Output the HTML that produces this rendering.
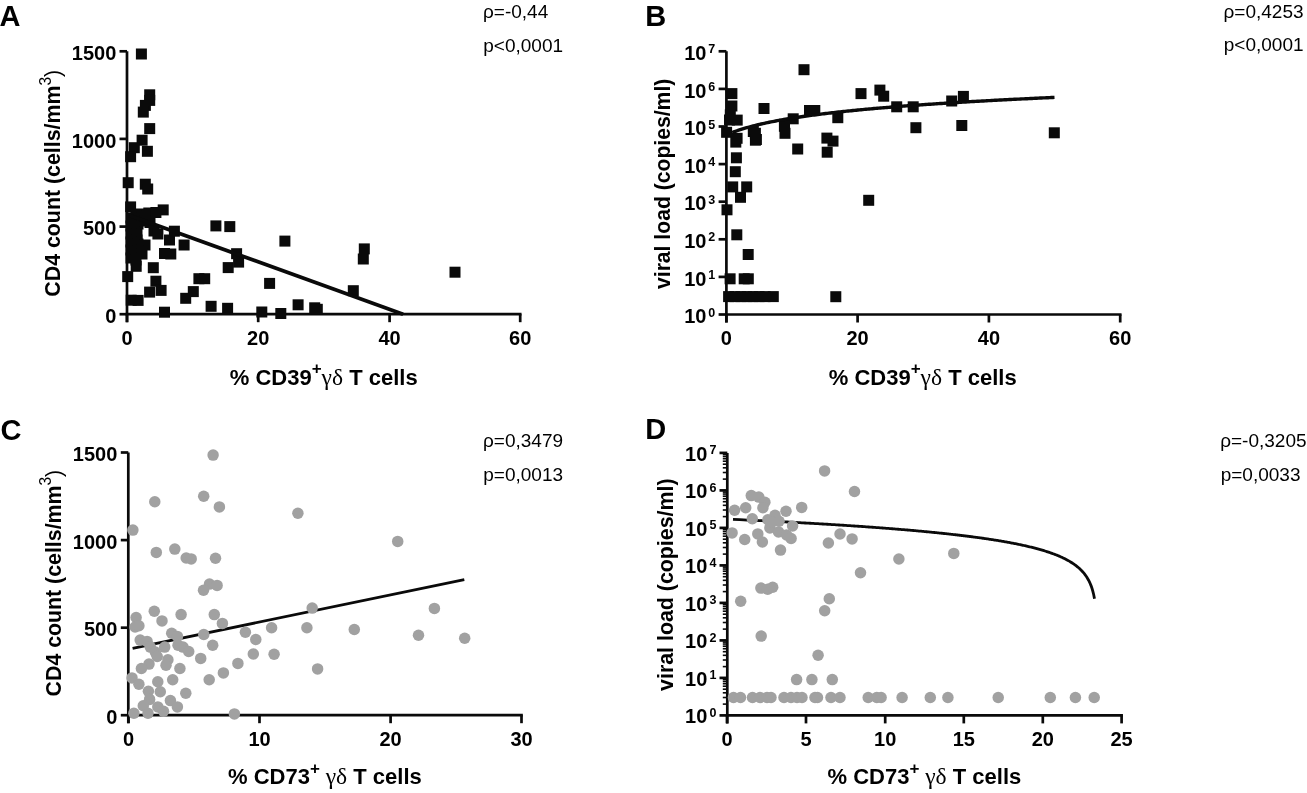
<!DOCTYPE html>
<html><head><meta charset="utf-8"><title>Figure</title>
<style>html,body{margin:0;padding:0;background:#fff;}svg{display:block;filter:grayscale(1);}</style></head>
<body><svg width="1307" height="793" viewBox="0 0 1307 793">
<rect width="1307" height="793" fill="#fff"/>
<line x1="127.00" y1="51.30" x2="127.00" y2="322.20" stroke="#0a0a0a" stroke-width="2.7" stroke-linecap="butt"/>
<line x1="125.65" y1="314.20" x2="521.55" y2="314.20" stroke="#0a0a0a" stroke-width="2.7" stroke-linecap="butt"/>
<line x1="119.50" y1="51.30" x2="127.00" y2="51.30" stroke="#0a0a0a" stroke-width="2.7" stroke-linecap="butt"/>
<line x1="119.50" y1="138.90" x2="127.00" y2="138.90" stroke="#0a0a0a" stroke-width="2.7" stroke-linecap="butt"/>
<line x1="119.50" y1="226.60" x2="127.00" y2="226.60" stroke="#0a0a0a" stroke-width="2.7" stroke-linecap="butt"/>
<line x1="119.50" y1="314.20" x2="127.00" y2="314.20" stroke="#0a0a0a" stroke-width="2.7" stroke-linecap="butt"/>
<line x1="127.00" y1="314.20" x2="127.00" y2="322.20" stroke="#0a0a0a" stroke-width="2.7" stroke-linecap="butt"/>
<line x1="258.20" y1="314.20" x2="258.20" y2="322.20" stroke="#0a0a0a" stroke-width="2.7" stroke-linecap="butt"/>
<line x1="389.60" y1="314.20" x2="389.60" y2="322.20" stroke="#0a0a0a" stroke-width="2.7" stroke-linecap="butt"/>
<line x1="520.20" y1="314.20" x2="520.20" y2="322.20" stroke="#0a0a0a" stroke-width="2.7" stroke-linecap="butt"/>
<text x="116.30" y="59.90" font-family="Liberation Sans" font-size="20" font-weight="bold" text-anchor="end" >1500</text>
<text x="116.30" y="147.50" font-family="Liberation Sans" font-size="20" font-weight="bold" text-anchor="end" >1000</text>
<text x="116.30" y="235.20" font-family="Liberation Sans" font-size="20" font-weight="bold" text-anchor="end" >500</text>
<text x="116.30" y="322.80" font-family="Liberation Sans" font-size="20" font-weight="bold" text-anchor="end" >0</text>
<text x="127.00" y="345.00" font-family="Liberation Sans" font-size="20" font-weight="bold" text-anchor="middle" >0</text>
<text x="258.20" y="345.00" font-family="Liberation Sans" font-size="20" font-weight="bold" text-anchor="middle" >20</text>
<text x="389.60" y="345.00" font-family="Liberation Sans" font-size="20" font-weight="bold" text-anchor="middle" >40</text>
<text x="520.20" y="345.00" font-family="Liberation Sans" font-size="20" font-weight="bold" text-anchor="middle" >60</text>
<rect x="135.90" y="48.50" width="11.0" height="11.0" fill="#0a0a0a"/>
<rect x="144.20" y="89.30" width="11.0" height="11.0" fill="#0a0a0a"/>
<rect x="144.20" y="94.90" width="11.0" height="11.0" fill="#0a0a0a"/>
<rect x="139.90" y="99.90" width="11.0" height="11.0" fill="#0a0a0a"/>
<rect x="137.80" y="106.60" width="11.0" height="11.0" fill="#0a0a0a"/>
<rect x="144.20" y="123.10" width="11.0" height="11.0" fill="#0a0a0a"/>
<rect x="136.60" y="134.70" width="11.0" height="11.0" fill="#0a0a0a"/>
<rect x="128.80" y="142.20" width="11.0" height="11.0" fill="#0a0a0a"/>
<rect x="141.90" y="145.80" width="11.0" height="11.0" fill="#0a0a0a"/>
<rect x="125.10" y="151.20" width="11.0" height="11.0" fill="#0a0a0a"/>
<rect x="122.70" y="177.20" width="11.0" height="11.0" fill="#0a0a0a"/>
<rect x="139.80" y="178.70" width="11.0" height="11.0" fill="#0a0a0a"/>
<rect x="142.20" y="183.50" width="11.0" height="11.0" fill="#0a0a0a"/>
<rect x="125.10" y="201.40" width="11.0" height="11.0" fill="#0a0a0a"/>
<rect x="157.70" y="204.40" width="11.0" height="11.0" fill="#0a0a0a"/>
<rect x="143.30" y="207.50" width="11.0" height="11.0" fill="#0a0a0a"/>
<rect x="150.40" y="207.00" width="11.0" height="11.0" fill="#0a0a0a"/>
<rect x="135.50" y="208.50" width="11.0" height="11.0" fill="#0a0a0a"/>
<rect x="130.50" y="210.50" width="11.0" height="11.0" fill="#0a0a0a"/>
<rect x="125.50" y="212.50" width="11.0" height="11.0" fill="#0a0a0a"/>
<rect x="125.50" y="220.50" width="11.0" height="11.0" fill="#0a0a0a"/>
<rect x="132.50" y="218.50" width="11.0" height="11.0" fill="#0a0a0a"/>
<rect x="139.50" y="215.50" width="11.0" height="11.0" fill="#0a0a0a"/>
<rect x="144.50" y="217.00" width="11.0" height="11.0" fill="#0a0a0a"/>
<rect x="125.50" y="228.50" width="11.0" height="11.0" fill="#0a0a0a"/>
<rect x="131.50" y="228.50" width="11.0" height="11.0" fill="#0a0a0a"/>
<rect x="131.50" y="234.50" width="11.0" height="11.0" fill="#0a0a0a"/>
<rect x="148.50" y="225.50" width="11.0" height="11.0" fill="#0a0a0a"/>
<rect x="152.40" y="228.50" width="11.0" height="11.0" fill="#0a0a0a"/>
<rect x="164.00" y="234.50" width="11.0" height="11.0" fill="#0a0a0a"/>
<rect x="125.50" y="236.50" width="11.0" height="11.0" fill="#0a0a0a"/>
<rect x="132.50" y="238.50" width="11.0" height="11.0" fill="#0a0a0a"/>
<rect x="139.50" y="239.50" width="11.0" height="11.0" fill="#0a0a0a"/>
<rect x="125.50" y="244.50" width="11.0" height="11.0" fill="#0a0a0a"/>
<rect x="132.50" y="245.50" width="11.0" height="11.0" fill="#0a0a0a"/>
<rect x="136.50" y="248.50" width="11.0" height="11.0" fill="#0a0a0a"/>
<rect x="125.50" y="252.50" width="11.0" height="11.0" fill="#0a0a0a"/>
<rect x="130.50" y="254.50" width="11.0" height="11.0" fill="#0a0a0a"/>
<rect x="130.70" y="260.80" width="11.0" height="11.0" fill="#0a0a0a"/>
<rect x="159.00" y="248.00" width="11.0" height="11.0" fill="#0a0a0a"/>
<rect x="165.30" y="248.50" width="11.0" height="11.0" fill="#0a0a0a"/>
<rect x="178.60" y="239.50" width="11.0" height="11.0" fill="#0a0a0a"/>
<rect x="168.90" y="225.70" width="11.0" height="11.0" fill="#0a0a0a"/>
<rect x="147.80" y="262.20" width="11.0" height="11.0" fill="#0a0a0a"/>
<rect x="122.20" y="271.10" width="11.0" height="11.0" fill="#0a0a0a"/>
<rect x="150.40" y="275.70" width="11.0" height="11.0" fill="#0a0a0a"/>
<rect x="155.60" y="284.90" width="11.0" height="11.0" fill="#0a0a0a"/>
<rect x="144.10" y="286.60" width="11.0" height="11.0" fill="#0a0a0a"/>
<rect x="125.70" y="294.70" width="11.0" height="11.0" fill="#0a0a0a"/>
<rect x="132.60" y="294.90" width="11.0" height="11.0" fill="#0a0a0a"/>
<rect x="159.00" y="306.70" width="11.0" height="11.0" fill="#0a0a0a"/>
<rect x="193.40" y="273.20" width="11.0" height="11.0" fill="#0a0a0a"/>
<rect x="199.20" y="273.20" width="11.0" height="11.0" fill="#0a0a0a"/>
<rect x="187.80" y="286.10" width="11.0" height="11.0" fill="#0a0a0a"/>
<rect x="180.20" y="292.80" width="11.0" height="11.0" fill="#0a0a0a"/>
<rect x="205.60" y="300.80" width="11.0" height="11.0" fill="#0a0a0a"/>
<rect x="222.10" y="302.80" width="11.0" height="11.0" fill="#0a0a0a"/>
<rect x="210.40" y="220.40" width="11.0" height="11.0" fill="#0a0a0a"/>
<rect x="224.30" y="221.10" width="11.0" height="11.0" fill="#0a0a0a"/>
<rect x="231.10" y="248.20" width="11.0" height="11.0" fill="#0a0a0a"/>
<rect x="233.10" y="256.60" width="11.0" height="11.0" fill="#0a0a0a"/>
<rect x="222.70" y="262.10" width="11.0" height="11.0" fill="#0a0a0a"/>
<rect x="279.40" y="235.60" width="11.0" height="11.0" fill="#0a0a0a"/>
<rect x="264.10" y="277.90" width="11.0" height="11.0" fill="#0a0a0a"/>
<rect x="256.30" y="306.50" width="11.0" height="11.0" fill="#0a0a0a"/>
<rect x="275.30" y="308.00" width="11.0" height="11.0" fill="#0a0a0a"/>
<rect x="292.60" y="299.30" width="11.0" height="11.0" fill="#0a0a0a"/>
<rect x="309.20" y="302.30" width="11.0" height="11.0" fill="#0a0a0a"/>
<rect x="311.80" y="303.80" width="11.0" height="11.0" fill="#0a0a0a"/>
<rect x="347.80" y="285.20" width="11.0" height="11.0" fill="#0a0a0a"/>
<rect x="358.80" y="243.40" width="11.0" height="11.0" fill="#0a0a0a"/>
<rect x="357.80" y="253.50" width="11.0" height="11.0" fill="#0a0a0a"/>
<rect x="449.50" y="266.70" width="11.0" height="11.0" fill="#0a0a0a"/>
<line x1="129.00" y1="215.20" x2="403.10" y2="314.20" stroke="#0a0a0a" stroke-width="3.8" stroke-linecap="butt"/>
<text x="-0.50" y="26.40" font-family="Liberation Sans" font-size="29" font-weight="bold" text-anchor="start" >A</text>
<text x="483.00" y="18.10" font-family="Liberation Sans" font-size="19" font-weight="normal" text-anchor="start" >ρ=-0,44</text>
<text x="483.30" y="52.00" font-family="Liberation Sans" font-size="19" font-weight="normal" text-anchor="start" >p&lt;0,0001</text>
<text transform="translate(60.20,296.70) rotate(-90)" font-family="Liberation Sans" font-size="22" font-weight="bold" textLength="226.9" lengthAdjust="spacingAndGlyphs">CD4 count (cells/mm<tspan font-size="16" font-weight="normal" dy="-9.5">3</tspan><tspan font-weight="normal" dy="9.5">)</tspan></text>
<text x="323.70" y="384.80" font-family="Liberation Sans" font-size="22" font-weight="bold" text-anchor="middle">% CD39<tspan font-size="17" dy="-10.5">+</tspan><tspan font-family="Liberation Serif" font-weight="normal" font-size="23.5" dy="10.5">γδ</tspan> T cells</text>
<line x1="726.40" y1="51.30" x2="726.40" y2="322.50" stroke="#0a0a0a" stroke-width="2.7" stroke-linecap="butt"/>
<line x1="725.05" y1="314.50" x2="1121.55" y2="314.50" stroke="#0a0a0a" stroke-width="2.7" stroke-linecap="butt"/>
<line x1="718.60" y1="314.50" x2="726.40" y2="314.50" stroke="#0a0a0a" stroke-width="2.7" stroke-linecap="butt"/>
<text x="706.50" y="323.20" font-family="Liberation Sans" font-size="20" font-weight="bold" text-anchor="end" >10</text>
<text x="708.30" y="316.50" font-family="Liberation Sans" font-size="12.5" font-weight="bold" text-anchor="start" >0</text>
<line x1="718.60" y1="276.90" x2="726.40" y2="276.90" stroke="#0a0a0a" stroke-width="2.7" stroke-linecap="butt"/>
<text x="706.50" y="285.60" font-family="Liberation Sans" font-size="20" font-weight="bold" text-anchor="end" >10</text>
<text x="708.30" y="278.90" font-family="Liberation Sans" font-size="12.5" font-weight="bold" text-anchor="start" >1</text>
<line x1="718.60" y1="239.30" x2="726.40" y2="239.30" stroke="#0a0a0a" stroke-width="2.7" stroke-linecap="butt"/>
<text x="706.50" y="248.00" font-family="Liberation Sans" font-size="20" font-weight="bold" text-anchor="end" >10</text>
<text x="708.30" y="241.30" font-family="Liberation Sans" font-size="12.5" font-weight="bold" text-anchor="start" >2</text>
<line x1="718.60" y1="201.70" x2="726.40" y2="201.70" stroke="#0a0a0a" stroke-width="2.7" stroke-linecap="butt"/>
<text x="706.50" y="210.40" font-family="Liberation Sans" font-size="20" font-weight="bold" text-anchor="end" >10</text>
<text x="708.30" y="203.70" font-family="Liberation Sans" font-size="12.5" font-weight="bold" text-anchor="start" >3</text>
<line x1="718.60" y1="164.10" x2="726.40" y2="164.10" stroke="#0a0a0a" stroke-width="2.7" stroke-linecap="butt"/>
<text x="706.50" y="172.80" font-family="Liberation Sans" font-size="20" font-weight="bold" text-anchor="end" >10</text>
<text x="708.30" y="166.10" font-family="Liberation Sans" font-size="12.5" font-weight="bold" text-anchor="start" >4</text>
<line x1="718.60" y1="126.50" x2="726.40" y2="126.50" stroke="#0a0a0a" stroke-width="2.7" stroke-linecap="butt"/>
<text x="706.50" y="135.20" font-family="Liberation Sans" font-size="20" font-weight="bold" text-anchor="end" >10</text>
<text x="708.30" y="128.50" font-family="Liberation Sans" font-size="12.5" font-weight="bold" text-anchor="start" >5</text>
<line x1="718.60" y1="88.90" x2="726.40" y2="88.90" stroke="#0a0a0a" stroke-width="2.7" stroke-linecap="butt"/>
<text x="706.50" y="97.60" font-family="Liberation Sans" font-size="20" font-weight="bold" text-anchor="end" >10</text>
<text x="708.30" y="90.90" font-family="Liberation Sans" font-size="12.5" font-weight="bold" text-anchor="start" >6</text>
<line x1="718.60" y1="51.30" x2="726.40" y2="51.30" stroke="#0a0a0a" stroke-width="2.7" stroke-linecap="butt"/>
<text x="706.50" y="60.00" font-family="Liberation Sans" font-size="20" font-weight="bold" text-anchor="end" >10</text>
<text x="708.30" y="53.30" font-family="Liberation Sans" font-size="12.5" font-weight="bold" text-anchor="start" >7</text>
<line x1="726.40" y1="314.50" x2="726.40" y2="322.50" stroke="#0a0a0a" stroke-width="2.7" stroke-linecap="butt"/>
<text x="726.40" y="345.30" font-family="Liberation Sans" font-size="20" font-weight="bold" text-anchor="middle" >0</text>
<line x1="857.60" y1="314.50" x2="857.60" y2="322.50" stroke="#0a0a0a" stroke-width="2.7" stroke-linecap="butt"/>
<text x="857.60" y="345.30" font-family="Liberation Sans" font-size="20" font-weight="bold" text-anchor="middle" >20</text>
<line x1="988.90" y1="314.50" x2="988.90" y2="322.50" stroke="#0a0a0a" stroke-width="2.7" stroke-linecap="butt"/>
<text x="988.90" y="345.30" font-family="Liberation Sans" font-size="20" font-weight="bold" text-anchor="middle" >40</text>
<line x1="1120.20" y1="314.50" x2="1120.20" y2="322.50" stroke="#0a0a0a" stroke-width="2.7" stroke-linecap="butt"/>
<text x="1120.20" y="345.30" font-family="Liberation Sans" font-size="20" font-weight="bold" text-anchor="middle" >60</text>
<rect x="798.50" y="64.20" width="11.0" height="11.0" fill="#0a0a0a"/>
<rect x="726.40" y="88.10" width="11.0" height="11.0" fill="#0a0a0a"/>
<rect x="726.40" y="100.50" width="11.0" height="11.0" fill="#0a0a0a"/>
<rect x="724.80" y="109.30" width="11.0" height="11.0" fill="#0a0a0a"/>
<rect x="731.70" y="114.60" width="11.0" height="11.0" fill="#0a0a0a"/>
<rect x="724.00" y="114.50" width="11.0" height="11.0" fill="#0a0a0a"/>
<rect x="758.50" y="103.00" width="11.0" height="11.0" fill="#0a0a0a"/>
<rect x="721.10" y="126.80" width="11.0" height="11.0" fill="#0a0a0a"/>
<rect x="731.60" y="132.80" width="11.0" height="11.0" fill="#0a0a0a"/>
<rect x="730.30" y="136.60" width="11.0" height="11.0" fill="#0a0a0a"/>
<rect x="747.80" y="126.00" width="11.0" height="11.0" fill="#0a0a0a"/>
<rect x="749.90" y="127.80" width="11.0" height="11.0" fill="#0a0a0a"/>
<rect x="749.90" y="134.70" width="11.0" height="11.0" fill="#0a0a0a"/>
<rect x="750.90" y="134.00" width="11.0" height="11.0" fill="#0a0a0a"/>
<rect x="778.90" y="120.80" width="11.0" height="11.0" fill="#0a0a0a"/>
<rect x="779.50" y="127.80" width="11.0" height="11.0" fill="#0a0a0a"/>
<rect x="787.70" y="113.30" width="11.0" height="11.0" fill="#0a0a0a"/>
<rect x="779.00" y="118.70" width="11.0" height="11.0" fill="#0a0a0a"/>
<rect x="804.00" y="105.00" width="11.0" height="11.0" fill="#0a0a0a"/>
<rect x="809.30" y="105.00" width="11.0" height="11.0" fill="#0a0a0a"/>
<rect x="832.30" y="112.20" width="11.0" height="11.0" fill="#0a0a0a"/>
<rect x="792.20" y="143.50" width="11.0" height="11.0" fill="#0a0a0a"/>
<rect x="821.40" y="132.60" width="11.0" height="11.0" fill="#0a0a0a"/>
<rect x="827.50" y="135.60" width="11.0" height="11.0" fill="#0a0a0a"/>
<rect x="821.70" y="146.70" width="11.0" height="11.0" fill="#0a0a0a"/>
<rect x="855.50" y="88.10" width="11.0" height="11.0" fill="#0a0a0a"/>
<rect x="874.40" y="84.60" width="11.0" height="11.0" fill="#0a0a0a"/>
<rect x="878.20" y="90.70" width="11.0" height="11.0" fill="#0a0a0a"/>
<rect x="891.20" y="101.30" width="11.0" height="11.0" fill="#0a0a0a"/>
<rect x="907.70" y="101.30" width="11.0" height="11.0" fill="#0a0a0a"/>
<rect x="910.40" y="122.20" width="11.0" height="11.0" fill="#0a0a0a"/>
<rect x="946.20" y="95.50" width="11.0" height="11.0" fill="#0a0a0a"/>
<rect x="957.90" y="90.90" width="11.0" height="11.0" fill="#0a0a0a"/>
<rect x="956.30" y="120.00" width="11.0" height="11.0" fill="#0a0a0a"/>
<rect x="1048.80" y="127.30" width="11.0" height="11.0" fill="#0a0a0a"/>
<rect x="730.90" y="152.30" width="11.0" height="11.0" fill="#0a0a0a"/>
<rect x="729.80" y="166.20" width="11.0" height="11.0" fill="#0a0a0a"/>
<rect x="727.20" y="181.40" width="11.0" height="11.0" fill="#0a0a0a"/>
<rect x="741.20" y="181.40" width="11.0" height="11.0" fill="#0a0a0a"/>
<rect x="735.00" y="191.80" width="11.0" height="11.0" fill="#0a0a0a"/>
<rect x="721.50" y="204.30" width="11.0" height="11.0" fill="#0a0a0a"/>
<rect x="731.30" y="229.30" width="11.0" height="11.0" fill="#0a0a0a"/>
<rect x="742.70" y="249.00" width="11.0" height="11.0" fill="#0a0a0a"/>
<rect x="724.60" y="273.30" width="11.0" height="11.0" fill="#0a0a0a"/>
<rect x="738.70" y="273.30" width="11.0" height="11.0" fill="#0a0a0a"/>
<rect x="742.80" y="273.30" width="11.0" height="11.0" fill="#0a0a0a"/>
<rect x="723.10" y="291.10" width="11.0" height="11.0" fill="#0a0a0a"/>
<rect x="729.50" y="291.10" width="11.0" height="11.0" fill="#0a0a0a"/>
<rect x="735.50" y="291.10" width="11.0" height="11.0" fill="#0a0a0a"/>
<rect x="741.50" y="291.10" width="11.0" height="11.0" fill="#0a0a0a"/>
<rect x="747.50" y="291.10" width="11.0" height="11.0" fill="#0a0a0a"/>
<rect x="753.50" y="291.10" width="11.0" height="11.0" fill="#0a0a0a"/>
<rect x="759.50" y="291.10" width="11.0" height="11.0" fill="#0a0a0a"/>
<rect x="767.80" y="291.10" width="11.0" height="11.0" fill="#0a0a0a"/>
<rect x="830.30" y="291.20" width="11.0" height="11.0" fill="#0a0a0a"/>
<rect x="863.20" y="194.80" width="11.0" height="11.0" fill="#0a0a0a"/>
<polyline fill="none" stroke="#0a0a0a" stroke-width="3.4" points="732.17,132.51 733.79,131.90 735.40,131.32 737.01,130.75 738.62,130.21 740.23,129.68 741.84,129.16 743.46,128.67 745.07,128.19 746.68,127.72 748.29,127.26 749.90,126.82 751.51,126.39 753.13,125.97 754.74,125.56 756.35,125.16 757.96,124.77 759.57,124.39 761.18,124.02 762.80,123.65 764.41,123.30 766.02,122.95 767.63,122.61 769.24,122.27 770.85,121.94 772.47,121.62 774.08,121.31 775.69,121.00 777.30,120.70 778.91,120.40 780.52,120.11 782.14,119.82 783.75,119.54 785.36,119.26 786.97,118.99 788.58,118.72 790.19,118.46 791.80,118.20 793.42,117.94 795.03,117.69 796.64,117.44 798.25,117.20 799.86,116.96 801.47,116.72 803.09,116.48 804.70,116.25 806.31,116.03 807.92,115.80 809.53,115.58 811.14,115.36 812.76,115.15 814.37,114.94 815.98,114.73 817.59,114.52 819.20,114.31 820.81,114.11 822.43,113.91 824.04,113.72 825.65,113.52 827.26,113.33 828.87,113.14 830.48,112.95 832.10,112.77 833.71,112.58 835.32,112.40 836.93,112.22 838.54,112.04 840.15,111.87 841.77,111.69 843.38,111.52 844.99,111.35 846.60,111.18 848.21,111.01 849.82,110.85 851.43,110.69 853.05,110.52 854.66,110.36 856.27,110.21 857.88,110.05 859.49,109.89 861.10,109.74 862.72,109.59 864.33,109.43 865.94,109.28 867.55,109.14 869.16,108.99 870.77,108.84 872.39,108.70 874.00,108.55 875.61,108.41 877.22,108.27 878.83,108.13 880.44,107.99 882.06,107.86 883.67,107.72 885.28,107.58 886.89,107.45 888.50,107.32 890.11,107.19 891.73,107.05 893.34,106.92 894.95,106.80 896.56,106.67 898.17,106.54 899.78,106.42 901.40,106.29 903.01,106.17 904.62,106.04 906.23,105.92 907.84,105.80 909.45,105.68 911.07,105.56 912.68,105.44 914.29,105.33 915.90,105.21 917.51,105.09 919.12,104.98 920.73,104.86 922.35,104.75 923.96,104.64 925.57,104.53 927.18,104.41 928.79,104.30 930.40,104.19 932.02,104.09 933.63,103.98 935.24,103.87 936.85,103.76 938.46,103.66 940.07,103.55 941.69,103.45 943.30,103.34 944.91,103.24 946.52,103.14 948.13,103.03 949.74,102.93 951.36,102.83 952.97,102.73 954.58,102.63 956.19,102.53 957.80,102.43 959.41,102.34 961.03,102.24 962.64,102.14 964.25,102.05 965.86,101.95 967.47,101.86 969.08,101.76 970.70,101.67 972.31,101.57 973.92,101.48 975.53,101.39 977.14,101.30 978.75,101.21 980.37,101.11 981.98,101.02 983.59,100.93 985.20,100.85 986.81,100.76 988.42,100.67 990.03,100.58 991.65,100.49 993.26,100.41 994.87,100.32 996.48,100.23 998.09,100.15 999.70,100.06 1001.32,99.98 1002.93,99.89 1004.54,99.81 1006.15,99.73 1007.76,99.64 1009.37,99.56 1010.99,99.48 1012.60,99.40 1014.21,99.32 1015.82,99.24 1017.43,99.16 1019.04,99.08 1020.66,99.00 1022.27,98.92 1023.88,98.84 1025.49,98.76 1027.10,98.68 1028.71,98.60 1030.33,98.53 1031.94,98.45 1033.55,98.37 1035.16,98.30 1036.77,98.22 1038.38,98.14 1040.00,98.07 1041.61,97.99 1043.22,97.92 1044.83,97.84 1046.44,97.77 1048.05,97.70 1049.67,97.62 1051.28,97.55 1052.89,97.48 1054.50,97.41"/>
<text x="645.30" y="26.20" font-family="Liberation Sans" font-size="29" font-weight="bold" text-anchor="start" >B</text>
<text x="1223.50" y="18.00" font-family="Liberation Sans" font-size="19" font-weight="normal" text-anchor="start" >ρ=0,4253</text>
<text x="1223.80" y="51.00" font-family="Liberation Sans" font-size="19" font-weight="normal" text-anchor="start" >p&lt;0,0001</text>
<text transform="translate(669.70,289.00) rotate(-90)" font-family="Liberation Sans" font-size="22" font-weight="bold" textLength="210.3" lengthAdjust="spacingAndGlyphs">viral load (copies/ml)</text>
<text x="922.70" y="384.80" font-family="Liberation Sans" font-size="22" font-weight="bold" text-anchor="middle">% CD39<tspan font-size="17" dy="-10.5">+</tspan><tspan font-family="Liberation Serif" font-weight="normal" font-size="23.5" dy="10.5">γδ</tspan> T cells</text>
<line x1="128.30" y1="452.50" x2="128.30" y2="723.20" stroke="#0a0a0a" stroke-width="2.7" stroke-linecap="butt"/>
<line x1="126.95" y1="715.20" x2="522.85" y2="715.20" stroke="#0a0a0a" stroke-width="2.7" stroke-linecap="butt"/>
<line x1="120.80" y1="452.50" x2="128.30" y2="452.50" stroke="#0a0a0a" stroke-width="2.7" stroke-linecap="butt"/>
<line x1="120.80" y1="540.10" x2="128.30" y2="540.10" stroke="#0a0a0a" stroke-width="2.7" stroke-linecap="butt"/>
<line x1="120.80" y1="627.70" x2="128.30" y2="627.70" stroke="#0a0a0a" stroke-width="2.7" stroke-linecap="butt"/>
<line x1="120.80" y1="715.20" x2="128.30" y2="715.20" stroke="#0a0a0a" stroke-width="2.7" stroke-linecap="butt"/>
<line x1="128.50" y1="715.20" x2="128.50" y2="723.20" stroke="#0a0a0a" stroke-width="2.7" stroke-linecap="butt"/>
<line x1="259.50" y1="715.20" x2="259.50" y2="723.20" stroke="#0a0a0a" stroke-width="2.7" stroke-linecap="butt"/>
<line x1="390.60" y1="715.20" x2="390.60" y2="723.20" stroke="#0a0a0a" stroke-width="2.7" stroke-linecap="butt"/>
<line x1="521.50" y1="715.20" x2="521.50" y2="723.20" stroke="#0a0a0a" stroke-width="2.7" stroke-linecap="butt"/>
<text x="117.30" y="461.10" font-family="Liberation Sans" font-size="20" font-weight="bold" text-anchor="end" >1500</text>
<text x="117.30" y="548.70" font-family="Liberation Sans" font-size="20" font-weight="bold" text-anchor="end" >1000</text>
<text x="117.30" y="636.30" font-family="Liberation Sans" font-size="20" font-weight="bold" text-anchor="end" >500</text>
<text x="117.30" y="723.80" font-family="Liberation Sans" font-size="20" font-weight="bold" text-anchor="end" >0</text>
<text x="128.50" y="746.00" font-family="Liberation Sans" font-size="20" font-weight="bold" text-anchor="middle" >0</text>
<text x="259.50" y="746.00" font-family="Liberation Sans" font-size="20" font-weight="bold" text-anchor="middle" >10</text>
<text x="390.60" y="746.00" font-family="Liberation Sans" font-size="20" font-weight="bold" text-anchor="middle" >20</text>
<text x="521.50" y="746.00" font-family="Liberation Sans" font-size="20" font-weight="bold" text-anchor="middle" >30</text>
<line x1="132.60" y1="648.30" x2="464.30" y2="579.70" stroke="#0a0a0a" stroke-width="2.8" stroke-linecap="butt"/>
<circle cx="213.10" cy="455.10" r="5.75" fill="#a1a1a4"/>
<circle cx="154.80" cy="501.80" r="5.75" fill="#a1a1a4"/>
<circle cx="203.70" cy="496.30" r="5.75" fill="#a1a1a4"/>
<circle cx="219.40" cy="506.90" r="5.75" fill="#a1a1a4"/>
<circle cx="132.90" cy="530.10" r="5.75" fill="#a1a1a4"/>
<circle cx="156.30" cy="552.40" r="5.75" fill="#a1a1a4"/>
<circle cx="174.80" cy="549.10" r="5.75" fill="#a1a1a4"/>
<circle cx="186.20" cy="558.00" r="5.75" fill="#a1a1a4"/>
<circle cx="191.20" cy="558.90" r="5.75" fill="#a1a1a4"/>
<circle cx="215.50" cy="558.30" r="5.75" fill="#a1a1a4"/>
<circle cx="209.50" cy="584.10" r="5.75" fill="#a1a1a4"/>
<circle cx="217.10" cy="585.40" r="5.75" fill="#a1a1a4"/>
<circle cx="203.50" cy="590.20" r="5.75" fill="#a1a1a4"/>
<circle cx="136.10" cy="617.50" r="5.75" fill="#a1a1a4"/>
<circle cx="154.30" cy="611.20" r="5.75" fill="#a1a1a4"/>
<circle cx="162.00" cy="620.90" r="5.75" fill="#a1a1a4"/>
<circle cx="181.10" cy="614.60" r="5.75" fill="#a1a1a4"/>
<circle cx="214.30" cy="614.60" r="5.75" fill="#a1a1a4"/>
<circle cx="222.40" cy="623.40" r="5.75" fill="#a1a1a4"/>
<circle cx="135.10" cy="627.00" r="5.75" fill="#a1a1a4"/>
<circle cx="138.90" cy="625.70" r="5.75" fill="#a1a1a4"/>
<circle cx="171.70" cy="633.30" r="5.75" fill="#a1a1a4"/>
<circle cx="177.40" cy="636.40" r="5.75" fill="#a1a1a4"/>
<circle cx="203.80" cy="634.50" r="5.75" fill="#a1a1a4"/>
<circle cx="140.20" cy="640.10" r="5.75" fill="#a1a1a4"/>
<circle cx="147.10" cy="641.40" r="5.75" fill="#a1a1a4"/>
<circle cx="150.30" cy="647.10" r="5.75" fill="#a1a1a4"/>
<circle cx="164.70" cy="647.10" r="5.75" fill="#a1a1a4"/>
<circle cx="178.00" cy="645.20" r="5.75" fill="#a1a1a4"/>
<circle cx="183.00" cy="647.10" r="5.75" fill="#a1a1a4"/>
<circle cx="188.70" cy="651.50" r="5.75" fill="#a1a1a4"/>
<circle cx="212.70" cy="645.20" r="5.75" fill="#a1a1a4"/>
<circle cx="155.30" cy="652.10" r="5.75" fill="#a1a1a4"/>
<circle cx="157.20" cy="656.50" r="5.75" fill="#a1a1a4"/>
<circle cx="167.90" cy="659.70" r="5.75" fill="#a1a1a4"/>
<circle cx="166.00" cy="665.30" r="5.75" fill="#a1a1a4"/>
<circle cx="149.00" cy="664.10" r="5.75" fill="#a1a1a4"/>
<circle cx="141.40" cy="668.50" r="5.75" fill="#a1a1a4"/>
<circle cx="179.90" cy="668.50" r="5.75" fill="#a1a1a4"/>
<circle cx="200.70" cy="658.40" r="5.75" fill="#a1a1a4"/>
<circle cx="237.90" cy="663.40" r="5.75" fill="#a1a1a4"/>
<circle cx="132.00" cy="677.90" r="5.75" fill="#a1a1a4"/>
<circle cx="138.90" cy="684.20" r="5.75" fill="#a1a1a4"/>
<circle cx="157.80" cy="681.70" r="5.75" fill="#a1a1a4"/>
<circle cx="172.70" cy="679.80" r="5.75" fill="#a1a1a4"/>
<circle cx="209.20" cy="679.80" r="5.75" fill="#a1a1a4"/>
<circle cx="223.40" cy="672.90" r="5.75" fill="#a1a1a4"/>
<circle cx="148.40" cy="691.20" r="5.75" fill="#a1a1a4"/>
<circle cx="160.30" cy="691.80" r="5.75" fill="#a1a1a4"/>
<circle cx="185.80" cy="693.30" r="5.75" fill="#a1a1a4"/>
<circle cx="149.60" cy="699.40" r="5.75" fill="#a1a1a4"/>
<circle cx="170.40" cy="700.60" r="5.75" fill="#a1a1a4"/>
<circle cx="143.30" cy="705.70" r="5.75" fill="#a1a1a4"/>
<circle cx="157.80" cy="706.90" r="5.75" fill="#a1a1a4"/>
<circle cx="177.40" cy="706.90" r="5.75" fill="#a1a1a4"/>
<circle cx="133.90" cy="713.20" r="5.75" fill="#a1a1a4"/>
<circle cx="148.00" cy="713.20" r="5.75" fill="#a1a1a4"/>
<circle cx="163.50" cy="711.30" r="5.75" fill="#a1a1a4"/>
<circle cx="234.40" cy="713.90" r="5.75" fill="#a1a1a4"/>
<circle cx="245.40" cy="632.20" r="5.75" fill="#a1a1a4"/>
<circle cx="255.80" cy="639.50" r="5.75" fill="#a1a1a4"/>
<circle cx="271.60" cy="627.80" r="5.75" fill="#a1a1a4"/>
<circle cx="306.90" cy="627.80" r="5.75" fill="#a1a1a4"/>
<circle cx="312.20" cy="608.10" r="5.75" fill="#a1a1a4"/>
<circle cx="354.30" cy="629.50" r="5.75" fill="#a1a1a4"/>
<circle cx="253.30" cy="654.00" r="5.75" fill="#a1a1a4"/>
<circle cx="274.10" cy="654.30" r="5.75" fill="#a1a1a4"/>
<circle cx="317.60" cy="668.90" r="5.75" fill="#a1a1a4"/>
<circle cx="397.70" cy="541.40" r="5.75" fill="#a1a1a4"/>
<circle cx="297.90" cy="513.20" r="5.75" fill="#a1a1a4"/>
<circle cx="434.40" cy="608.40" r="5.75" fill="#a1a1a4"/>
<circle cx="418.50" cy="635.20" r="5.75" fill="#a1a1a4"/>
<circle cx="464.70" cy="638.20" r="5.75" fill="#a1a1a4"/>
<text x="0.60" y="439.70" font-family="Liberation Sans" font-size="29" font-weight="bold" text-anchor="start" >C</text>
<text x="483.00" y="446.90" font-family="Liberation Sans" font-size="19" font-weight="normal" text-anchor="start" >ρ=0,3479</text>
<text x="483.30" y="481.20" font-family="Liberation Sans" font-size="19" font-weight="normal" text-anchor="start" >p=0,0013</text>
<text transform="translate(60.80,696.40) rotate(-90)" font-family="Liberation Sans" font-size="22" font-weight="bold" textLength="226.6" lengthAdjust="spacingAndGlyphs">CD4 count (cells/mm<tspan font-size="16" font-weight="normal" dy="-9.5">3</tspan><tspan font-weight="normal" dy="9.5">)</tspan></text>
<text x="324.90" y="784.00" font-family="Liberation Sans" font-size="22" font-weight="bold" text-anchor="middle">% CD73<tspan font-size="17" dy="-10.5">+</tspan><tspan font-family="Liberation Serif" font-weight="normal" font-size="23.5" dy="10.5"> γδ</tspan> T cells</text>
<line x1="727.30" y1="452.90" x2="727.30" y2="723.40" stroke="#0a0a0a" stroke-width="2.7" stroke-linecap="butt"/>
<line x1="725.95" y1="715.40" x2="1122.95" y2="715.40" stroke="#0a0a0a" stroke-width="2.7" stroke-linecap="butt"/>
<line x1="719.50" y1="715.40" x2="727.30" y2="715.40" stroke="#0a0a0a" stroke-width="2.7" stroke-linecap="butt"/>
<text x="707.30" y="723.40" font-family="Liberation Sans" font-size="20" font-weight="bold" text-anchor="end" >10</text>
<text x="709.60" y="716.70" font-family="Liberation Sans" font-size="12.5" font-weight="bold" text-anchor="start" >0</text>
<line x1="722.80" y1="704.11" x2="727.30" y2="704.11" stroke="#0a0a0a" stroke-width="1.6" stroke-linecap="butt"/>
<line x1="722.80" y1="697.51" x2="727.30" y2="697.51" stroke="#0a0a0a" stroke-width="1.6" stroke-linecap="butt"/>
<line x1="722.80" y1="692.82" x2="727.30" y2="692.82" stroke="#0a0a0a" stroke-width="1.6" stroke-linecap="butt"/>
<line x1="722.80" y1="689.19" x2="727.30" y2="689.19" stroke="#0a0a0a" stroke-width="1.6" stroke-linecap="butt"/>
<line x1="722.80" y1="686.22" x2="727.30" y2="686.22" stroke="#0a0a0a" stroke-width="1.6" stroke-linecap="butt"/>
<line x1="722.80" y1="683.71" x2="727.30" y2="683.71" stroke="#0a0a0a" stroke-width="1.6" stroke-linecap="butt"/>
<line x1="722.80" y1="681.53" x2="727.30" y2="681.53" stroke="#0a0a0a" stroke-width="1.6" stroke-linecap="butt"/>
<line x1="722.80" y1="679.62" x2="727.30" y2="679.62" stroke="#0a0a0a" stroke-width="1.6" stroke-linecap="butt"/>
<line x1="719.50" y1="677.90" x2="727.30" y2="677.90" stroke="#0a0a0a" stroke-width="2.7" stroke-linecap="butt"/>
<text x="707.30" y="685.90" font-family="Liberation Sans" font-size="20" font-weight="bold" text-anchor="end" >10</text>
<text x="709.60" y="679.20" font-family="Liberation Sans" font-size="12.5" font-weight="bold" text-anchor="start" >1</text>
<line x1="722.80" y1="666.61" x2="727.30" y2="666.61" stroke="#0a0a0a" stroke-width="1.6" stroke-linecap="butt"/>
<line x1="722.80" y1="660.01" x2="727.30" y2="660.01" stroke="#0a0a0a" stroke-width="1.6" stroke-linecap="butt"/>
<line x1="722.80" y1="655.32" x2="727.30" y2="655.32" stroke="#0a0a0a" stroke-width="1.6" stroke-linecap="butt"/>
<line x1="722.80" y1="651.69" x2="727.30" y2="651.69" stroke="#0a0a0a" stroke-width="1.6" stroke-linecap="butt"/>
<line x1="722.80" y1="648.72" x2="727.30" y2="648.72" stroke="#0a0a0a" stroke-width="1.6" stroke-linecap="butt"/>
<line x1="722.80" y1="646.21" x2="727.30" y2="646.21" stroke="#0a0a0a" stroke-width="1.6" stroke-linecap="butt"/>
<line x1="722.80" y1="644.03" x2="727.30" y2="644.03" stroke="#0a0a0a" stroke-width="1.6" stroke-linecap="butt"/>
<line x1="722.80" y1="642.12" x2="727.30" y2="642.12" stroke="#0a0a0a" stroke-width="1.6" stroke-linecap="butt"/>
<line x1="719.50" y1="640.40" x2="727.30" y2="640.40" stroke="#0a0a0a" stroke-width="2.7" stroke-linecap="butt"/>
<text x="707.30" y="648.40" font-family="Liberation Sans" font-size="20" font-weight="bold" text-anchor="end" >10</text>
<text x="709.60" y="641.70" font-family="Liberation Sans" font-size="12.5" font-weight="bold" text-anchor="start" >2</text>
<line x1="722.80" y1="629.11" x2="727.30" y2="629.11" stroke="#0a0a0a" stroke-width="1.6" stroke-linecap="butt"/>
<line x1="722.80" y1="622.51" x2="727.30" y2="622.51" stroke="#0a0a0a" stroke-width="1.6" stroke-linecap="butt"/>
<line x1="722.80" y1="617.82" x2="727.30" y2="617.82" stroke="#0a0a0a" stroke-width="1.6" stroke-linecap="butt"/>
<line x1="722.80" y1="614.19" x2="727.30" y2="614.19" stroke="#0a0a0a" stroke-width="1.6" stroke-linecap="butt"/>
<line x1="722.80" y1="611.22" x2="727.30" y2="611.22" stroke="#0a0a0a" stroke-width="1.6" stroke-linecap="butt"/>
<line x1="722.80" y1="608.71" x2="727.30" y2="608.71" stroke="#0a0a0a" stroke-width="1.6" stroke-linecap="butt"/>
<line x1="722.80" y1="606.53" x2="727.30" y2="606.53" stroke="#0a0a0a" stroke-width="1.6" stroke-linecap="butt"/>
<line x1="722.80" y1="604.62" x2="727.30" y2="604.62" stroke="#0a0a0a" stroke-width="1.6" stroke-linecap="butt"/>
<line x1="719.50" y1="602.90" x2="727.30" y2="602.90" stroke="#0a0a0a" stroke-width="2.7" stroke-linecap="butt"/>
<text x="707.30" y="610.90" font-family="Liberation Sans" font-size="20" font-weight="bold" text-anchor="end" >10</text>
<text x="709.60" y="604.20" font-family="Liberation Sans" font-size="12.5" font-weight="bold" text-anchor="start" >3</text>
<line x1="722.80" y1="591.61" x2="727.30" y2="591.61" stroke="#0a0a0a" stroke-width="1.6" stroke-linecap="butt"/>
<line x1="722.80" y1="585.01" x2="727.30" y2="585.01" stroke="#0a0a0a" stroke-width="1.6" stroke-linecap="butt"/>
<line x1="722.80" y1="580.32" x2="727.30" y2="580.32" stroke="#0a0a0a" stroke-width="1.6" stroke-linecap="butt"/>
<line x1="722.80" y1="576.69" x2="727.30" y2="576.69" stroke="#0a0a0a" stroke-width="1.6" stroke-linecap="butt"/>
<line x1="722.80" y1="573.72" x2="727.30" y2="573.72" stroke="#0a0a0a" stroke-width="1.6" stroke-linecap="butt"/>
<line x1="722.80" y1="571.21" x2="727.30" y2="571.21" stroke="#0a0a0a" stroke-width="1.6" stroke-linecap="butt"/>
<line x1="722.80" y1="569.03" x2="727.30" y2="569.03" stroke="#0a0a0a" stroke-width="1.6" stroke-linecap="butt"/>
<line x1="722.80" y1="567.12" x2="727.30" y2="567.12" stroke="#0a0a0a" stroke-width="1.6" stroke-linecap="butt"/>
<line x1="719.50" y1="565.40" x2="727.30" y2="565.40" stroke="#0a0a0a" stroke-width="2.7" stroke-linecap="butt"/>
<text x="707.30" y="573.40" font-family="Liberation Sans" font-size="20" font-weight="bold" text-anchor="end" >10</text>
<text x="709.60" y="566.70" font-family="Liberation Sans" font-size="12.5" font-weight="bold" text-anchor="start" >4</text>
<line x1="722.80" y1="554.11" x2="727.30" y2="554.11" stroke="#0a0a0a" stroke-width="1.6" stroke-linecap="butt"/>
<line x1="722.80" y1="547.51" x2="727.30" y2="547.51" stroke="#0a0a0a" stroke-width="1.6" stroke-linecap="butt"/>
<line x1="722.80" y1="542.82" x2="727.30" y2="542.82" stroke="#0a0a0a" stroke-width="1.6" stroke-linecap="butt"/>
<line x1="722.80" y1="539.19" x2="727.30" y2="539.19" stroke="#0a0a0a" stroke-width="1.6" stroke-linecap="butt"/>
<line x1="722.80" y1="536.22" x2="727.30" y2="536.22" stroke="#0a0a0a" stroke-width="1.6" stroke-linecap="butt"/>
<line x1="722.80" y1="533.71" x2="727.30" y2="533.71" stroke="#0a0a0a" stroke-width="1.6" stroke-linecap="butt"/>
<line x1="722.80" y1="531.53" x2="727.30" y2="531.53" stroke="#0a0a0a" stroke-width="1.6" stroke-linecap="butt"/>
<line x1="722.80" y1="529.62" x2="727.30" y2="529.62" stroke="#0a0a0a" stroke-width="1.6" stroke-linecap="butt"/>
<line x1="719.50" y1="527.90" x2="727.30" y2="527.90" stroke="#0a0a0a" stroke-width="2.7" stroke-linecap="butt"/>
<text x="707.30" y="535.90" font-family="Liberation Sans" font-size="20" font-weight="bold" text-anchor="end" >10</text>
<text x="709.60" y="529.20" font-family="Liberation Sans" font-size="12.5" font-weight="bold" text-anchor="start" >5</text>
<line x1="722.80" y1="516.61" x2="727.30" y2="516.61" stroke="#0a0a0a" stroke-width="1.6" stroke-linecap="butt"/>
<line x1="722.80" y1="510.01" x2="727.30" y2="510.01" stroke="#0a0a0a" stroke-width="1.6" stroke-linecap="butt"/>
<line x1="722.80" y1="505.32" x2="727.30" y2="505.32" stroke="#0a0a0a" stroke-width="1.6" stroke-linecap="butt"/>
<line x1="722.80" y1="501.69" x2="727.30" y2="501.69" stroke="#0a0a0a" stroke-width="1.6" stroke-linecap="butt"/>
<line x1="722.80" y1="498.72" x2="727.30" y2="498.72" stroke="#0a0a0a" stroke-width="1.6" stroke-linecap="butt"/>
<line x1="722.80" y1="496.21" x2="727.30" y2="496.21" stroke="#0a0a0a" stroke-width="1.6" stroke-linecap="butt"/>
<line x1="722.80" y1="494.03" x2="727.30" y2="494.03" stroke="#0a0a0a" stroke-width="1.6" stroke-linecap="butt"/>
<line x1="722.80" y1="492.12" x2="727.30" y2="492.12" stroke="#0a0a0a" stroke-width="1.6" stroke-linecap="butt"/>
<line x1="719.50" y1="490.40" x2="727.30" y2="490.40" stroke="#0a0a0a" stroke-width="2.7" stroke-linecap="butt"/>
<text x="707.30" y="498.40" font-family="Liberation Sans" font-size="20" font-weight="bold" text-anchor="end" >10</text>
<text x="709.60" y="491.70" font-family="Liberation Sans" font-size="12.5" font-weight="bold" text-anchor="start" >6</text>
<line x1="722.80" y1="479.11" x2="727.30" y2="479.11" stroke="#0a0a0a" stroke-width="1.6" stroke-linecap="butt"/>
<line x1="722.80" y1="472.51" x2="727.30" y2="472.51" stroke="#0a0a0a" stroke-width="1.6" stroke-linecap="butt"/>
<line x1="722.80" y1="467.82" x2="727.30" y2="467.82" stroke="#0a0a0a" stroke-width="1.6" stroke-linecap="butt"/>
<line x1="722.80" y1="464.19" x2="727.30" y2="464.19" stroke="#0a0a0a" stroke-width="1.6" stroke-linecap="butt"/>
<line x1="722.80" y1="461.22" x2="727.30" y2="461.22" stroke="#0a0a0a" stroke-width="1.6" stroke-linecap="butt"/>
<line x1="722.80" y1="458.71" x2="727.30" y2="458.71" stroke="#0a0a0a" stroke-width="1.6" stroke-linecap="butt"/>
<line x1="722.80" y1="456.53" x2="727.30" y2="456.53" stroke="#0a0a0a" stroke-width="1.6" stroke-linecap="butt"/>
<line x1="722.80" y1="454.62" x2="727.30" y2="454.62" stroke="#0a0a0a" stroke-width="1.6" stroke-linecap="butt"/>
<line x1="719.50" y1="452.90" x2="727.30" y2="452.90" stroke="#0a0a0a" stroke-width="2.7" stroke-linecap="butt"/>
<text x="707.30" y="460.90" font-family="Liberation Sans" font-size="20" font-weight="bold" text-anchor="end" >10</text>
<text x="709.60" y="454.20" font-family="Liberation Sans" font-size="12.5" font-weight="bold" text-anchor="start" >7</text>
<line x1="727.00" y1="715.40" x2="727.00" y2="723.40" stroke="#0a0a0a" stroke-width="2.7" stroke-linecap="butt"/>
<text x="727.00" y="746.00" font-family="Liberation Sans" font-size="20" font-weight="bold" text-anchor="middle" >0</text>
<line x1="806.00" y1="715.40" x2="806.00" y2="723.40" stroke="#0a0a0a" stroke-width="2.7" stroke-linecap="butt"/>
<text x="806.00" y="746.00" font-family="Liberation Sans" font-size="20" font-weight="bold" text-anchor="middle" >5</text>
<line x1="885.20" y1="715.40" x2="885.20" y2="723.40" stroke="#0a0a0a" stroke-width="2.7" stroke-linecap="butt"/>
<text x="885.20" y="746.00" font-family="Liberation Sans" font-size="20" font-weight="bold" text-anchor="middle" >10</text>
<line x1="963.80" y1="715.40" x2="963.80" y2="723.40" stroke="#0a0a0a" stroke-width="2.7" stroke-linecap="butt"/>
<text x="963.80" y="746.00" font-family="Liberation Sans" font-size="20" font-weight="bold" text-anchor="middle" >15</text>
<line x1="1042.80" y1="715.40" x2="1042.80" y2="723.40" stroke="#0a0a0a" stroke-width="2.7" stroke-linecap="butt"/>
<text x="1042.80" y="746.00" font-family="Liberation Sans" font-size="20" font-weight="bold" text-anchor="middle" >20</text>
<line x1="1121.60" y1="715.40" x2="1121.60" y2="723.40" stroke="#0a0a0a" stroke-width="2.7" stroke-linecap="butt"/>
<text x="1121.60" y="746.00" font-family="Liberation Sans" font-size="20" font-weight="bold" text-anchor="middle" >25</text>
<polyline fill="none" stroke="#0a0a0a" stroke-width="2.8" points="732.98,519.39 739.65,519.69 743.82,519.88 747.37,520.05 750.58,520.20 753.56,520.34 756.36,520.47 759.03,520.60 761.58,520.72 764.03,520.84 766.41,520.96 768.72,521.07 770.96,521.18 773.15,521.29 775.29,521.40 777.38,521.51 779.44,521.61 781.45,521.71 783.43,521.82 785.37,521.92 787.29,522.02 789.18,522.12 791.04,522.22 792.87,522.31 794.68,522.41 796.47,522.51 798.24,522.60 799.98,522.70 801.71,522.79 803.42,522.89 805.11,522.98 806.79,523.08 808.45,523.17 810.09,523.26 811.72,523.36 813.33,523.45 814.93,523.54 816.52,523.63 818.09,523.72 819.66,523.81 821.21,523.91 822.74,524.00 824.27,524.09 825.79,524.18 827.29,524.27 828.79,524.36 830.27,524.45 831.75,524.54 833.22,524.63 834.67,524.72 836.12,524.81 837.56,524.90 838.99,524.99 840.41,525.08 841.83,525.17 843.24,525.26 844.64,525.35 846.03,525.44 847.41,525.53 848.79,525.62 850.16,525.71 851.52,525.80 852.88,525.89 854.23,525.98 855.58,526.07 856.91,526.16 858.25,526.25 859.57,526.34 860.89,526.43 862.20,526.52 863.51,526.61 864.81,526.71 866.11,526.80 867.40,526.89 868.69,526.98 869.97,527.07 871.25,527.16 872.52,527.25 873.78,527.35 875.05,527.44 876.30,527.53 877.55,527.62 878.80,527.72 880.04,527.81 881.28,527.90 882.51,528.00 883.74,528.09 884.97,528.18 886.19,528.28 887.41,528.37 888.62,528.46 889.83,528.56 891.03,528.65 892.23,528.75 893.43,528.84 894.62,528.94 895.81,529.04 897.00,529.13 898.18,529.23 899.36,529.33 900.53,529.42 901.70,529.52 902.87,529.62 904.03,529.71 905.20,529.81 906.35,529.91 907.51,530.01 908.66,530.11 909.81,530.21 910.95,530.31 912.09,530.41 913.23,530.51 914.37,530.61 915.50,530.71 916.63,530.81 917.75,530.91 918.88,531.02 920.00,531.12 921.11,531.22 922.23,531.33 923.34,531.43 924.45,531.53 925.56,531.64 926.66,531.74 927.76,531.85 928.86,531.95 929.95,532.06 931.05,532.17 932.14,532.27 933.23,532.38 934.31,532.49 935.39,532.60 936.47,532.71 937.55,532.82 938.63,532.93 939.70,533.04 940.77,533.15 941.84,533.26 942.91,533.37 943.97,533.49 945.03,533.60 946.09,533.71 947.15,533.83 948.20,533.94 949.25,534.06 950.30,534.17 951.35,534.29 952.40,534.41 953.44,534.52 954.48,534.64 955.52,534.76 956.56,534.88 957.60,535.00 958.63,535.12 959.66,535.24 960.69,535.37 961.72,535.49 962.74,535.61 963.77,535.74 964.79,535.86 965.81,535.99 966.82,536.11 967.84,536.24 968.85,536.37 969.87,536.50 970.88,536.63 971.88,536.76 972.89,536.89 973.90,537.02 974.90,537.16 975.90,537.29 976.90,537.42 977.90,537.56 978.89,537.70 979.89,537.83 980.88,537.97 981.87,538.11 982.86,538.25 983.85,538.39 984.83,538.53 985.82,538.68 986.80,538.82 987.78,538.97 988.76,539.11 989.74,539.26 990.71,539.41 991.69,539.56 992.66,539.71 993.63,539.86 994.60,540.01 995.57,540.17 996.54,540.32 997.50,540.48 998.46,540.64 999.43,540.80 1000.39,540.96 1001.35,541.12 1002.30,541.28 1003.26,541.45 1004.21,541.62 1005.17,541.78 1006.12,541.95 1007.07,542.12 1008.02,542.30 1008.97,542.47 1009.91,542.64 1010.86,542.82 1011.80,543.00 1012.74,543.18 1013.69,543.36 1014.62,543.55 1015.56,543.73 1016.50,543.92 1017.44,544.11 1018.37,544.30 1019.30,544.50 1020.23,544.69 1021.16,544.89 1022.09,545.09 1023.02,545.29 1023.95,545.50 1024.87,545.70 1025.80,545.91 1026.72,546.12 1027.64,546.34 1028.56,546.55 1029.48,546.77 1030.40,547.00 1031.31,547.22 1032.23,547.45 1033.14,547.68 1034.06,547.91 1034.97,548.15 1035.88,548.39 1036.79,548.63 1037.70,548.88 1038.60,549.13 1039.51,549.38 1040.41,549.64 1041.32,549.90 1042.22,550.16 1043.12,550.43 1044.02,550.71 1044.92,550.98 1045.82,551.27 1046.72,551.55 1047.61,551.84 1048.51,552.14 1049.40,552.44 1050.29,552.75 1051.18,553.06 1052.07,553.38 1052.96,553.70 1053.85,554.03 1054.74,554.37 1055.63,554.71 1056.51,555.06 1057.40,555.42 1058.28,555.78 1059.16,556.15 1060.04,556.53 1060.92,556.92 1061.80,557.32 1062.68,557.73 1063.56,558.15 1064.43,558.58 1065.31,559.02 1066.18,559.47 1067.05,559.93 1067.93,560.41 1068.80,560.90 1069.67,561.41 1070.54,561.93 1071.40,562.47 1072.27,563.02 1073.14,563.60 1074.00,564.19 1074.87,564.81 1075.73,565.45 1076.59,566.11 1077.46,566.81 1078.32,567.53 1079.18,568.28 1080.04,569.08 1080.89,569.91 1081.75,570.78 1082.61,571.71 1083.46,572.69 1084.32,573.73 1085.17,574.84 1086.02,576.03 1086.87,577.31 1087.72,578.70 1088.57,580.22 1089.42,581.89 1090.27,583.75 1091.12,585.86 1091.97,588.27 1092.81,591.09 1093.66,594.52 1094.50,598.85"/>
<circle cx="751.30" cy="495.60" r="5.75" fill="#a1a1a4"/>
<circle cx="758.80" cy="497.10" r="5.75" fill="#a1a1a4"/>
<circle cx="764.90" cy="502.20" r="5.75" fill="#a1a1a4"/>
<circle cx="734.60" cy="510.30" r="5.75" fill="#a1a1a4"/>
<circle cx="745.70" cy="507.70" r="5.75" fill="#a1a1a4"/>
<circle cx="762.90" cy="507.70" r="5.75" fill="#a1a1a4"/>
<circle cx="786.00" cy="511.30" r="5.75" fill="#a1a1a4"/>
<circle cx="801.70" cy="507.40" r="5.75" fill="#a1a1a4"/>
<circle cx="752.30" cy="518.80" r="5.75" fill="#a1a1a4"/>
<circle cx="767.90" cy="519.80" r="5.75" fill="#a1a1a4"/>
<circle cx="775.00" cy="515.30" r="5.75" fill="#a1a1a4"/>
<circle cx="779.00" cy="521.30" r="5.75" fill="#a1a1a4"/>
<circle cx="792.60" cy="525.90" r="5.75" fill="#a1a1a4"/>
<circle cx="769.90" cy="527.90" r="5.75" fill="#a1a1a4"/>
<circle cx="732.10" cy="532.90" r="5.75" fill="#a1a1a4"/>
<circle cx="757.80" cy="533.90" r="5.75" fill="#a1a1a4"/>
<circle cx="778.50" cy="531.90" r="5.75" fill="#a1a1a4"/>
<circle cx="786.60" cy="535.00" r="5.75" fill="#a1a1a4"/>
<circle cx="791.10" cy="538.50" r="5.75" fill="#a1a1a4"/>
<circle cx="744.70" cy="539.50" r="5.75" fill="#a1a1a4"/>
<circle cx="762.40" cy="542.00" r="5.75" fill="#a1a1a4"/>
<circle cx="780.50" cy="550.10" r="5.75" fill="#a1a1a4"/>
<circle cx="828.40" cy="543.00" r="5.75" fill="#a1a1a4"/>
<circle cx="840.00" cy="534.00" r="5.75" fill="#a1a1a4"/>
<circle cx="772.00" cy="522.00" r="5.75" fill="#a1a1a4"/>
<circle cx="824.60" cy="470.90" r="5.75" fill="#a1a1a4"/>
<circle cx="854.50" cy="491.50" r="5.75" fill="#a1a1a4"/>
<circle cx="852.10" cy="538.90" r="5.75" fill="#a1a1a4"/>
<circle cx="898.90" cy="559.00" r="5.75" fill="#a1a1a4"/>
<circle cx="860.50" cy="572.80" r="5.75" fill="#a1a1a4"/>
<circle cx="953.80" cy="553.40" r="5.75" fill="#a1a1a4"/>
<circle cx="829.30" cy="598.70" r="5.75" fill="#a1a1a4"/>
<circle cx="824.70" cy="610.80" r="5.75" fill="#a1a1a4"/>
<circle cx="760.90" cy="588.10" r="5.75" fill="#a1a1a4"/>
<circle cx="767.70" cy="589.20" r="5.75" fill="#a1a1a4"/>
<circle cx="772.70" cy="587.20" r="5.75" fill="#a1a1a4"/>
<circle cx="740.70" cy="601.30" r="5.75" fill="#a1a1a4"/>
<circle cx="761.20" cy="636.10" r="5.75" fill="#a1a1a4"/>
<circle cx="818.10" cy="655.20" r="5.75" fill="#a1a1a4"/>
<circle cx="796.60" cy="679.60" r="5.75" fill="#a1a1a4"/>
<circle cx="811.90" cy="679.60" r="5.75" fill="#a1a1a4"/>
<circle cx="832.30" cy="679.60" r="5.75" fill="#a1a1a4"/>
<circle cx="733.50" cy="697.50" r="5.75" fill="#a1a1a4"/>
<circle cx="740.50" cy="697.50" r="5.75" fill="#a1a1a4"/>
<circle cx="752.50" cy="697.50" r="5.75" fill="#a1a1a4"/>
<circle cx="760.00" cy="697.50" r="5.75" fill="#a1a1a4"/>
<circle cx="767.00" cy="697.50" r="5.75" fill="#a1a1a4"/>
<circle cx="771.00" cy="697.50" r="5.75" fill="#a1a1a4"/>
<circle cx="784.00" cy="697.50" r="5.75" fill="#a1a1a4"/>
<circle cx="791.00" cy="697.50" r="5.75" fill="#a1a1a4"/>
<circle cx="797.00" cy="697.50" r="5.75" fill="#a1a1a4"/>
<circle cx="802.00" cy="697.50" r="5.75" fill="#a1a1a4"/>
<circle cx="815.00" cy="697.50" r="5.75" fill="#a1a1a4"/>
<circle cx="817.50" cy="697.50" r="5.75" fill="#a1a1a4"/>
<circle cx="831.00" cy="697.50" r="5.75" fill="#a1a1a4"/>
<circle cx="840.00" cy="697.50" r="5.75" fill="#a1a1a4"/>
<circle cx="868.20" cy="697.50" r="5.75" fill="#a1a1a4"/>
<circle cx="876.80" cy="697.50" r="5.75" fill="#a1a1a4"/>
<circle cx="881.10" cy="697.50" r="5.75" fill="#a1a1a4"/>
<circle cx="902.10" cy="697.50" r="5.75" fill="#a1a1a4"/>
<circle cx="930.30" cy="697.50" r="5.75" fill="#a1a1a4"/>
<circle cx="947.90" cy="697.50" r="5.75" fill="#a1a1a4"/>
<circle cx="998.20" cy="697.50" r="5.75" fill="#a1a1a4"/>
<circle cx="1050.30" cy="697.50" r="5.75" fill="#a1a1a4"/>
<circle cx="1075.40" cy="697.50" r="5.75" fill="#a1a1a4"/>
<circle cx="1094.20" cy="697.50" r="5.75" fill="#a1a1a4"/>
<text x="645.30" y="438.90" font-family="Liberation Sans" font-size="29" font-weight="bold" text-anchor="start" >D</text>
<text x="1220.20" y="446.70" font-family="Liberation Sans" font-size="19" font-weight="normal" text-anchor="start" >ρ=-0,3205</text>
<text x="1220.70" y="481.00" font-family="Liberation Sans" font-size="19" font-weight="normal" text-anchor="start" >p=0,0033</text>
<text transform="translate(673.40,690.90) rotate(-90)" font-family="Liberation Sans" font-size="22" font-weight="bold" textLength="212.4" lengthAdjust="spacingAndGlyphs">viral load (copies/ml)</text>
<text x="924.40" y="784.00" font-family="Liberation Sans" font-size="22" font-weight="bold" text-anchor="middle">% CD73<tspan font-size="17" dy="-10.5">+</tspan><tspan font-family="Liberation Serif" font-weight="normal" font-size="23.5" dy="10.5"> γδ</tspan> T cells</text>
</svg></body></html>
